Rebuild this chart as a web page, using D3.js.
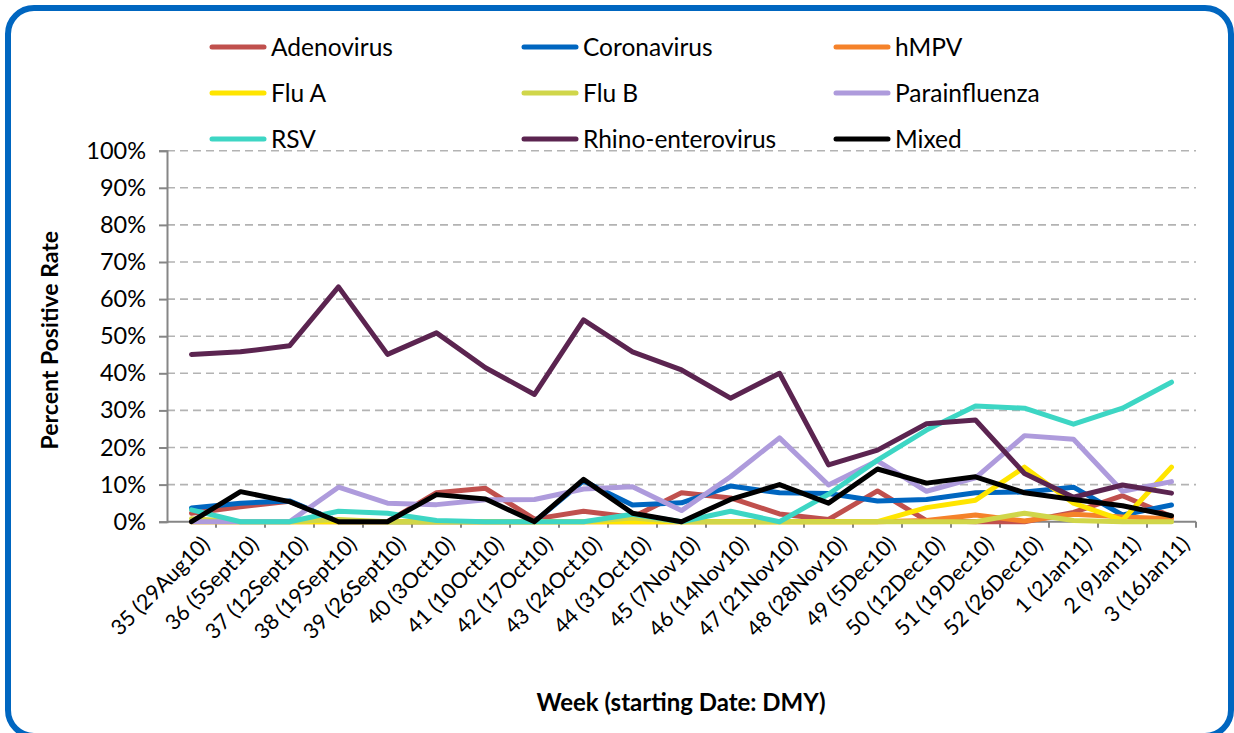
<!DOCTYPE html>
<html>
<head>
<meta charset="utf-8">
<script src="https://cdn.jsdelivr.net/npm/d3@7"></script>
<style>
  html, body { margin: 0; padding: 0; background: #fff; }
  svg { display: block; font-family: Lato, "Open Sans", sans-serif; }
</style>
</head>
<body>
<svg id="chart" width="1234" height="733"></svg>
<script>
// week labels (x categories)
const weeks = ["35 (29Aug10)", "36 (5Sept10)", "37 (12Sept10)", "38 (19Sept10)", "39 (26Sept10)",
  "40 (3Oct10)", "41 (10Oct10)", "42 (17Oct10)", "43 (24Oct10)", "44 (31Oct10)", "45 (7Nov10)",
  "46 (14Nov10)", "47 (21Nov10)", "48 (28Nov10)", "49 (5Dec10)", "50 (12Dec10)", "51 (19Dec10)",
  "52 (26Dec10)", "1 (2Jan11)", "2 (9Jan11)", "3 (16Jan11)"];

// percent positive, one value per week
const adenovirus    = [2.3, 4.0, 5.5, 0, 0, 7.8, 9.0, 0.7, 2.8, 1.2, 7.8, 6.4, 2.1, 0.6, 8.3, 0.3, 0, 0, 2.5, 7.0, 1.4];
const coronavirus   = [3.7, 5.0, 5.6, 0, 0, 0, 0, 0, 11.0, 4.5, 5.1, 9.6, 7.8, 7.6, 5.6, 6.0, 7.8, 8.0, 9.3, 1.8, 4.5];
const hmpv          = [0, 0, 0, 0, 0, 0, 0, 0, 0, 0, 0, 0, 0, 0, 0, 0.3, 1.8, 0.2, 2.0, 1.3, 0.8];
const fluA          = [0, 0, 0, 0, 0, 0, 0, 0, 0, 0, 0, 0, 0, 0, 0, 3.8, 5.8, 14.7, 5.0, 0.4, 14.7];
const fluB          = [0.8, 0, 0, 0.6, 0, 0, 0, 0, 0, 1.0, 0, 0, 0, 0, 0, 0, 0, 2.3, 0.3, 0, 0];
const parainfluenza = [0, 0, 0, 9.3, 5.0, 4.6, 5.9, 6.0, 8.8, 9.4, 3.0, 12.1, 22.6, 9.9, 16.4, 8.2, 11.8, 23.2, 22.2, 8.2, 10.8];
const rsv           = [3.2, 0, 0, 2.8, 2.3, 0.3, 0, 0, 0, 2.0, 0, 2.8, 0, 7.4, 16.6, 24.7, 31.2, 30.6, 26.3, 30.6, 37.6];
const rhino         = [45.1, 45.8, 47.4, 63.3, 45.1, 50.9, 41.5, 34.3, 54.4, 45.8, 40.9, 33.3, 40.0, 15.3, 19.3, 26.4, 27.4, 13.0, 6.6, 9.9, 7.7];
const mixed         = [0, 8.1, 5.4, 0, 0, 7.3, 6.1, 0, 11.4, 2.3, 0, 6.0, 10.0, 5.0, 14.2, 10.4, 12.1, 7.8, 6.0, 4.3, 1.6];

const yTicks = [0, 10, 20, 30, 40, 50, 60, 70, 80, 90, 100];

const series = [
  { name: "Adenovirus", values: adenovirus, color: "#c0504d" },
  { name: "Coronavirus", values: coronavirus, color: "#0066c0" },
  { name: "hMPV", values: hmpv, color: "#f5822a" },
  { name: "Flu A", values: fluA, color: "#ffe500" },
  { name: "Flu B", values: fluB, color: "#d0d64a" },
  { name: "Parainfluenza", values: parainfluenza, color: "#ae9bdc" },
  { name: "RSV", values: rsv, color: "#3dd6c4" },
  { name: "Rhino-enterovirus", values: rhino, color: "#5b2450" },
  { name: "Mixed", values: mixed, color: "#000000" }
];

const svg = d3.select("#chart");

// rounded blue frame
svg.append("rect")
  .attr("x", 8).attr("y", 8)
  .attr("width", 1223).attr("height", 728)
  .attr("rx", 26).attr("ry", 26)
  .attr("fill", "#fff")
  .attr("stroke", "#0066c0")
  .attr("stroke-width", 6);

const plot = { left: 167, right: 1196, top: 150.7, bottom: 521.7 };

const x = d3.scaleBand().domain(weeks).range([plot.left, plot.right]);
const y = d3.scaleLinear().domain([0, 100]).range([plot.bottom, plot.top]);

// dashed grid lines
svg.append("g")
  .selectAll("line")
  .data(yTicks.filter(d => d > 0))
  .enter().append("line")
  .attr("x1", plot.left).attr("x2", plot.right)
  .attr("y1", d => y(d)).attr("y2", d => y(d))
  .attr("stroke", "#b3b3b3")
  .attr("stroke-width", 1.6)
  .attr("stroke-dasharray", "8,5");

// y axis
const yAxis = svg.append("g")
  .attr("transform", `translate(${plot.left},0)`)
  .call(d3.axisLeft(y).tickValues(yTicks).tickSize(8).tickPadding(13).tickFormat(d => d + "%"));
yAxis.select(".domain").attr("stroke", "#868686").attr("stroke-width", 2);
yAxis.selectAll(".tick line").attr("stroke", "#868686").attr("stroke-width", 2);
yAxis.selectAll("text")
  .attr("font-family", "Lato, sans-serif")
  .attr("font-size", 23.5)
  .attr("fill", "#000");

// x axis: ticks at category boundaries
const xAxis = svg.append("g")
  .attr("transform", `translate(0,${plot.bottom})`);
xAxis.append("line")
  .attr("x1", plot.left).attr("x2", plot.right)
  .attr("stroke", "#868686").attr("stroke-width", 2);
xAxis.selectAll(".xtick")
  .data(weeks)
  .enter().append("line")
  .attr("x1", d => x(d) + x.bandwidth()).attr("x2", d => x(d) + x.bandwidth())
  .attr("y1", 0).attr("y2", 6)
  .attr("stroke", "#868686").attr("stroke-width", 2);
xAxis.selectAll(".xlabel")
  .data(weeks)
  .enter().append("text")
  .attr("transform", d => `translate(${x(d) + x.bandwidth() / 2 + 9},${13}) rotate(-45)`)
  .attr("text-anchor", "end")
  .attr("dy", "0.7em")
  .attr("font-size", 21.5)
  .text(d => d);

// lines
const line = d3.line()
  .x((d, i) => x(weeks[i]) + x.bandwidth() / 2)
  .y(d => y(d));

svg.append("g")
  .selectAll("path")
  .data(series)
  .enter().append("path")
  .attr("d", d => line(d.values))
  .attr("fill", "none")
  .attr("stroke", d => d.color)
  .attr("stroke-width", 5)
  .attr("stroke-linejoin", "round")
  .attr("stroke-linecap", "round");

// axis titles
svg.append("text")
  .attr("transform", `translate(58,${(plot.top + plot.bottom) / 2 + 4}) rotate(-90)`)
  .attr("text-anchor", "middle")
  .attr("font-weight", "bold")
  .attr("font-size", 23)
  .text("Percent Positive Rate");

svg.append("text")
  .attr("x", 681).attr("y", 711)
  .attr("text-anchor", "middle")
  .attr("font-weight", "bold")
  .attr("font-size", 24)
  .text("Week (starting Date: DMY)");

// legend, 3 columns x 3 rows
const legend = svg.append("g")
  .selectAll("g")
  .data(series)
  .enter().append("g")
  .attr("transform", (d, i) => `translate(${212 + (i % 3) * 312},${47 + Math.floor(i / 3) * 46})`);
legend.append("line")
  .attr("x1", 0).attr("x2", 52)
  .attr("stroke", d => d.color)
  .attr("stroke-width", 5)
  .attr("stroke-linecap", "round");
legend.append("text")
  .attr("x", 59)
  .attr("dy", "0.36em")
  .attr("font-size", 24.5)
  .text(d => d.name);
</script>
</body>
</html>
